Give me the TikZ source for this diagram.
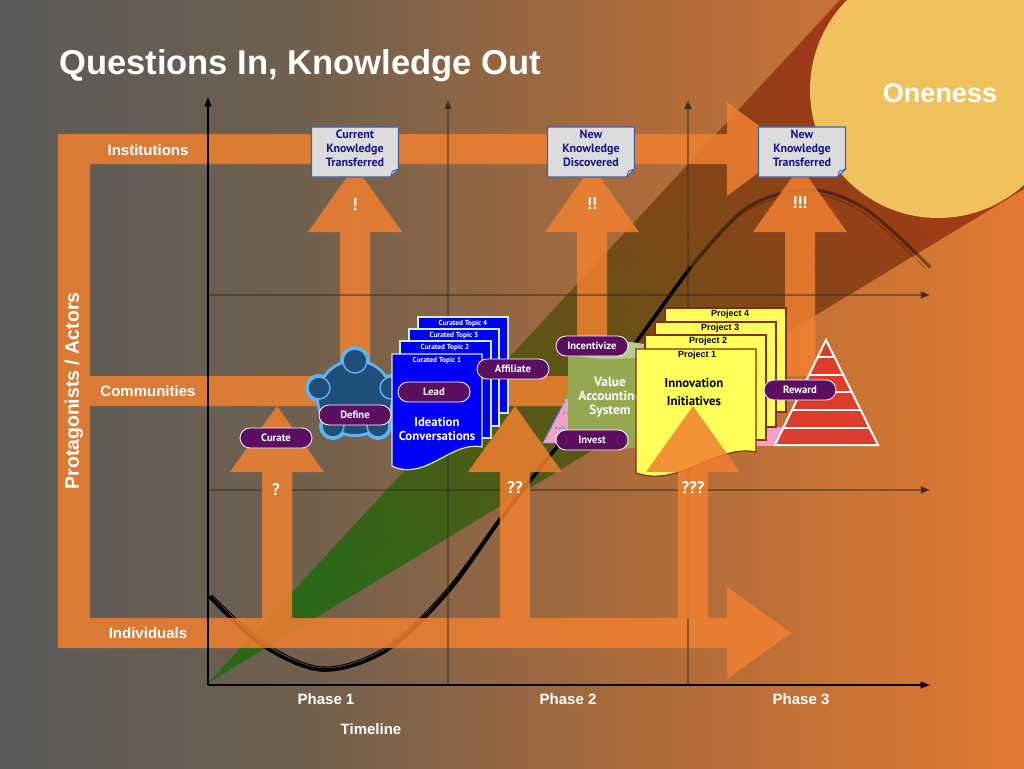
\documentclass[tikz,border=0pt]{standalone}
\usepackage{fontspec}
\setmainfont{Liberation Sans}
\newfontfamily\ptsans{PT Sans}
\usetikzlibrary{calc,arrows.meta}
\definecolor{bgL}{HTML}{5A5A5A}
\definecolor{bgA}{HTML}{70604E}
\definecolor{bgB}{HTML}{A86A3C}
\definecolor{bgR}{HTML}{E27A30}
\definecolor{barO}{HTML}{F08030}
\definecolor{beamG}{HTML}{1A6A0A}
\definecolor{beamM}{HTML}{5A3010}
\definecolor{beamR}{HTML}{9A2A12}
\definecolor{sun}{HTML}{EFC25E}
\definecolor{pillP}{HTML}{5C0F60}
\definecolor{noteF}{HTML}{DCDCDC}
\definecolor{noteB}{HTML}{3B63A6}
\definecolor{noteT}{HTML}{15158A}
\definecolor{docB}{HTML}{0000FA}
\definecolor{docE}{HTML}{D0F0C0}
\definecolor{projY}{HTML}{FFFF5A}
\definecolor{projE}{HTML}{8A2A10}
\definecolor{cylG}{HTML}{94A852}
\definecolor{cylT}{HTML}{B9C98F}
\definecolor{pinkP}{HTML}{F2A2C8}
\definecolor{dotB}{HTML}{4AA0E8}
\definecolor{pyrR}{HTML}{DE3C2A}
\definecolor{grpF}{HTML}{1F4E7A}
\definecolor{grpE}{HTML}{62B2EE}
\definecolor{gridC}{HTML}{3A2A1A}
\pgfdeclarehorizontalshading{bgshade}{100bp}{color(0bp)=(bgL); color(25bp)=(bgL); color(40bp)=(bgA); color(55bp)=(bgB); color(75bp)=(bgR); color(100bp)=(bgR)}
\tikzset{
  lbl/.style={text=white, font=\bfseries\fontsize{11.25}{13}\selectfont, inner sep=0pt},
  pill/.style={fill=pillP, draw=white, line width=0.6pt, text=white,
    font=\ptsans\bfseries\fontsize{8}{9}\selectfont, minimum width=54pt,
    minimum height=15pt, rounded corners=7.5pt, inner sep=0pt},
  qm/.style={text=white, font=\ptsans\bfseries\fontsize{12.5}{12.5}\selectfont, inner sep=0pt},
  notetext/.style={text=noteT, font=\ptsans\bfseries\fontsize{9}{10.5}\selectfont, align=center, inner sep=0pt},
  notebox/.style={fill=noteF, draw=noteB, line width=0.9pt},
  bar/.style={fill=barO, fill opacity=0.85},
  backdoc/.style={fill=docB, draw=docE, line width=0.9pt},
  topic/.style={text=white, font=\ptsans\bfseries\fontsize{5.5}{6}\selectfont, inner sep=0pt},
  doctext/.style={text=white, font=\ptsans\bfseries\fontsize{9.6}{10.5}\selectfont, align=center, inner sep=0pt},
  projdoc/.style={fill=projY, draw=projE, line width=0.9pt},
  projlbl/.style={text=black, font=\bfseries\fontsize{6.75}{7}\selectfont, inner sep=0pt},
  projtext/.style={text=black, font=\ptsans\bfseries\fontsize{9.6}{13.5}\selectfont, align=center, inner sep=0pt},
  cyltext/.style={text=white, font=\ptsans\bfseries\fontsize{10}{10.5}\selectfont, align=center, inner sep=0pt},
  gridln/.style={draw=gridC, draw opacity=0.5, line width=1.1pt, -{Triangle[length=7pt,width=6pt]}},
  axisln/.style={draw=black, line width=1.2pt, -{Triangle[length=7pt,width=5pt]}}
}
\newcommand\mkKbox[3]{%
  \draw[notebox] (#2-43.5,127) -- (#2+43.5,127) -- (#2+43.5,169) -- (#2+35.5,177) -- (#2-43.5,177) -- cycle;
  \filldraw[fill=noteB!35!white, draw=noteB, line width=0.6pt] (#2+43.5,169) -- (#2+35.5,177) -- (#2+37.5,171) -- cycle;
  \node[notetext] (#1) at (#2,148.5) {#3};
}
\begin{document}
\begin{tikzpicture}[x=0.75pt,y=-0.75pt]
\useasboundingbox (0,0) rectangle (1024,768);
\shade[shading=bgshade] (0,0) rectangle (1024,768);

% beam
\shade[bottom color=beamG, middle color=beamM, top color=beamR, shading angle=-45, fill opacity=0.8]
  (208,683) -- (840,0) -- (1024,0) -- (1024,189) -- cycle;

% sun
\fill[sun] (938,90) circle (96pt);
\node[text=white, font=\bfseries\fontsize{20.25}{22}\selectfont, inner sep=0pt] (oneness) at (940,93) {Oneness};

% S-curve (brush)
\draw[black, draw opacity=0.4, line width=2.4pt, line cap=round] plot[smooth, tension=0.55] coordinates
  {(210,597) (262,645) (323,670) (387,650) (447,593) (500,520) (533,477) (590,405) (640,337) (690,268) (740,213) (780,194) (822,191) (870,212) (930,267)};
\draw[black, draw opacity=0.25, line width=0.8pt, line cap=round] plot[smooth, tension=0.55] coordinates
  {(688,272) (738,217) (779,198) (822,195) (868,216) (925,268)};
\draw[black, line width=2.6pt, line cap=round] plot[smooth, tension=0.55] coordinates
  {(210,597) (262,645) (323,670) (387,650) (447,593) (500,520) (533,477) (590,405) (640,337) (690,268)};
\draw[black, line width=0.8pt, line cap=round] plot[smooth, tension=0.55] coordinates
  {(212,595) (264,642) (323,667) (386,647) (446,590) (499,518)};

% frame and bars
\fill[bar] (58,134) -- (727,134) -- (727,102) -- (790,149) -- (727,196) -- (727,164) -- (90,164)
  -- (90,376) -- (780,376) -- (780,406) -- (90,406) -- (90,618) -- (727,618) -- (727,587)
  -- (791,633) -- (727,679) -- (727,648) -- (58,648) -- cycle;

% upper arrows
\foreach \c in {355,592,800}
  \fill[bar] (\c-15,376) -- (\c-15,232) -- (\c-47,232) -- (\c,166) -- (\c+47,232) -- (\c+15,232) -- (\c+15,376) -- cycle;

% grid and axes
\coordinate (o) at (208,685);
\draw[gridln] (448,685) -- (448,100);
\draw[gridln] (688,685) -- (688,100);
\draw[gridln] (208,295) -- (930,295);
\draw[gridln] (208,490) -- (930,490);
\coordinate (ytop) at (208,97);
\coordinate (xend) at (930,685);
\draw[axisln] (o) -- (ytop);
\draw[axisln] (o) -- (xend);

% Define group icon
\path[draw=grpE, line width=4.5pt] (355,398) circle (27pt) (355,361) circle (9pt) (319,388) circle (8.25pt)
  (391,388) circle (8.25pt) (333,426) circle (8.25pt) (378,426) circle (8.25pt);
\path[fill=grpF] (355,398) circle (27pt) (355,361) circle (9pt) (319,388) circle (8.25pt)
  (391,388) circle (8.25pt) (333,426) circle (8.25pt) (378,426) circle (8.25pt);
\path[draw=grpE, line width=1.1pt] (355,361) circle (9pt) (319,388) circle (8.25pt)
  (391,388) circle (8.25pt) (333,426) circle (8.25pt) (378,426) circle (8.25pt);

% Ideation stack
\filldraw[backdoc] (418,317) rectangle (508,413);
\node[topic] (t4) at (463,324) {Curated Topic 4};
\filldraw[backdoc] (409,329) rectangle (499,426);
\node[topic] (t3) at (454,336) {Curated Topic 3};
\filldraw[backdoc] (400,341) rectangle (491,438);
\node[topic] (t2) at (445,348) {Curated Topic 2};
\filldraw[backdoc] (392,354) -- (482,354) -- (482,447) .. controls (452,440) and (425,482) .. (392,466) -- cycle;
\node[topic] (t1) at (437,361) {Curated Topic 1};
\node[doctext] (ideation) at (437,429) {Ideation\\Conversations};

% Value accounting system
\filldraw[fill=pinkP, draw=dotB, dotted, line width=1.1pt] (543,443) -- (596,342) -- (650,443) -- cycle;
\draw[dotB, dotted, line width=1.1pt] (551,428) -- (642,428) (559,413) -- (634,413) (567,398) -- (626,398);
\fill[cylG] (568,350) -- (568,440) arc[start angle=180, end angle=360, x radius=32.25pt, y radius=6.75pt] -- (654,350) -- cycle;
\fill[cylT] (611,350) ellipse[x radius=32.25pt, y radius=6.75pt];
\node[cyltext] (vas) at (610,397) {Value\\Accounting\\System};

% pink band behind pyramid
\fill[pinkP] (745,427) -- (800,427) -- (800,446) -- (745,446) -- cycle;

% Projects
\filldraw[projdoc] (665,308) rectangle (786,412);
\node[projlbl] (p4) at (730,314) {Project 4};
\filldraw[projdoc] (655,322) rectangle (776,427);
\node[projlbl] (p3) at (720,328) {Project 3};
\filldraw[projdoc] (645,335) rectangle (766,440);
\node[projlbl] (p2) at (708,341) {Project 2};
\filldraw[projdoc] (636,349) -- (756,349) -- (756,452) .. controls (716,444) and (680,488) .. (636,473) -- cycle;
\node[projlbl] (p1) at (697,355) {Project 1};

% Reward pyramid
\begin{scope}
  \clip (826,340) -- (878,445) -- (775,445) -- cycle;
  \fill[pyrR] (770,335) rectangle (885,450);
  \foreach \yy in {357,375,392,410,428} \draw[white, line width=1.5pt] (770,\yy) -- (885,\yy);
\end{scope}
\draw[white, line width=1.5pt, line join=miter] (826,340) -- (878,445) -- (775,445) -- cycle;

% Knowledge boxes
\mkKbox{k1}{355}{Current\\Knowledge\\Transferred}
\mkKbox{k2}{591}{New\\Knowledge\\Discovered}
\mkKbox{k3}{802}{New\\Knowledge\\Transferred}

% lower arrows
\foreach \c in {277,515,693}
  \fill[bar] (\c-15,618) -- (\c-15,472) -- (\c-47,472) -- (\c,406) -- (\c+47,472) -- (\c+15,472) -- (\c+15,618) -- cycle;

\node[projtext] (innov) at (694,392) {Innovation\\Initiatives};

% marks
\node[qm] (q1) at (276,490) {?};
\node[qm] (q2) at (515,488) {??};
\node[qm] (q3) at (693,488) {???};
\node[qm] (e1) at (355,205) {!};
\node[qm] (e2) at (592,204) {!!};
\node[qm] (e3) at (800,203) {!!!};

% pills
\node[pill] (curate) at (276,438) {Curate};
\node[pill] (define) at (355,415) {Define};
\node[pill] (lead) at (434,392) {Lead};
\node[pill] (affiliate) at (513,369) {Affiliate};
\node[pill] (incent) at (592,346) {Incentivize};
\node[pill] (invest) at (592,440) {Invest};
\node[pill] (reward) at (800,390) {Reward};

% labels
\node[lbl] (inst) at (148,150) {Institutions};
\node[lbl] (comm) at (148,391) {Communities};
\node[lbl] (indiv) at (148,633) {Individuals};
\node[lbl, rotate=90, font=\bfseries\fontsize{14.6}{16}\selectfont] (prot) at (74,391) {Protagonists / Actors};
\node[lbl] (ph1) at (326,699) {Phase 1};
\node[lbl] (ph2) at (568,699) {Phase 2};
\node[lbl] (ph3) at (801,699) {Phase 3};
\node[lbl] (timeline) at (371,729) {Timeline};
\node[lbl, anchor=base west, font=\bfseries\fontsize{25.9}{28}\selectfont] (title) at (59,74) {Questions In, Knowledge Out};
\end{tikzpicture}
\end{document}
